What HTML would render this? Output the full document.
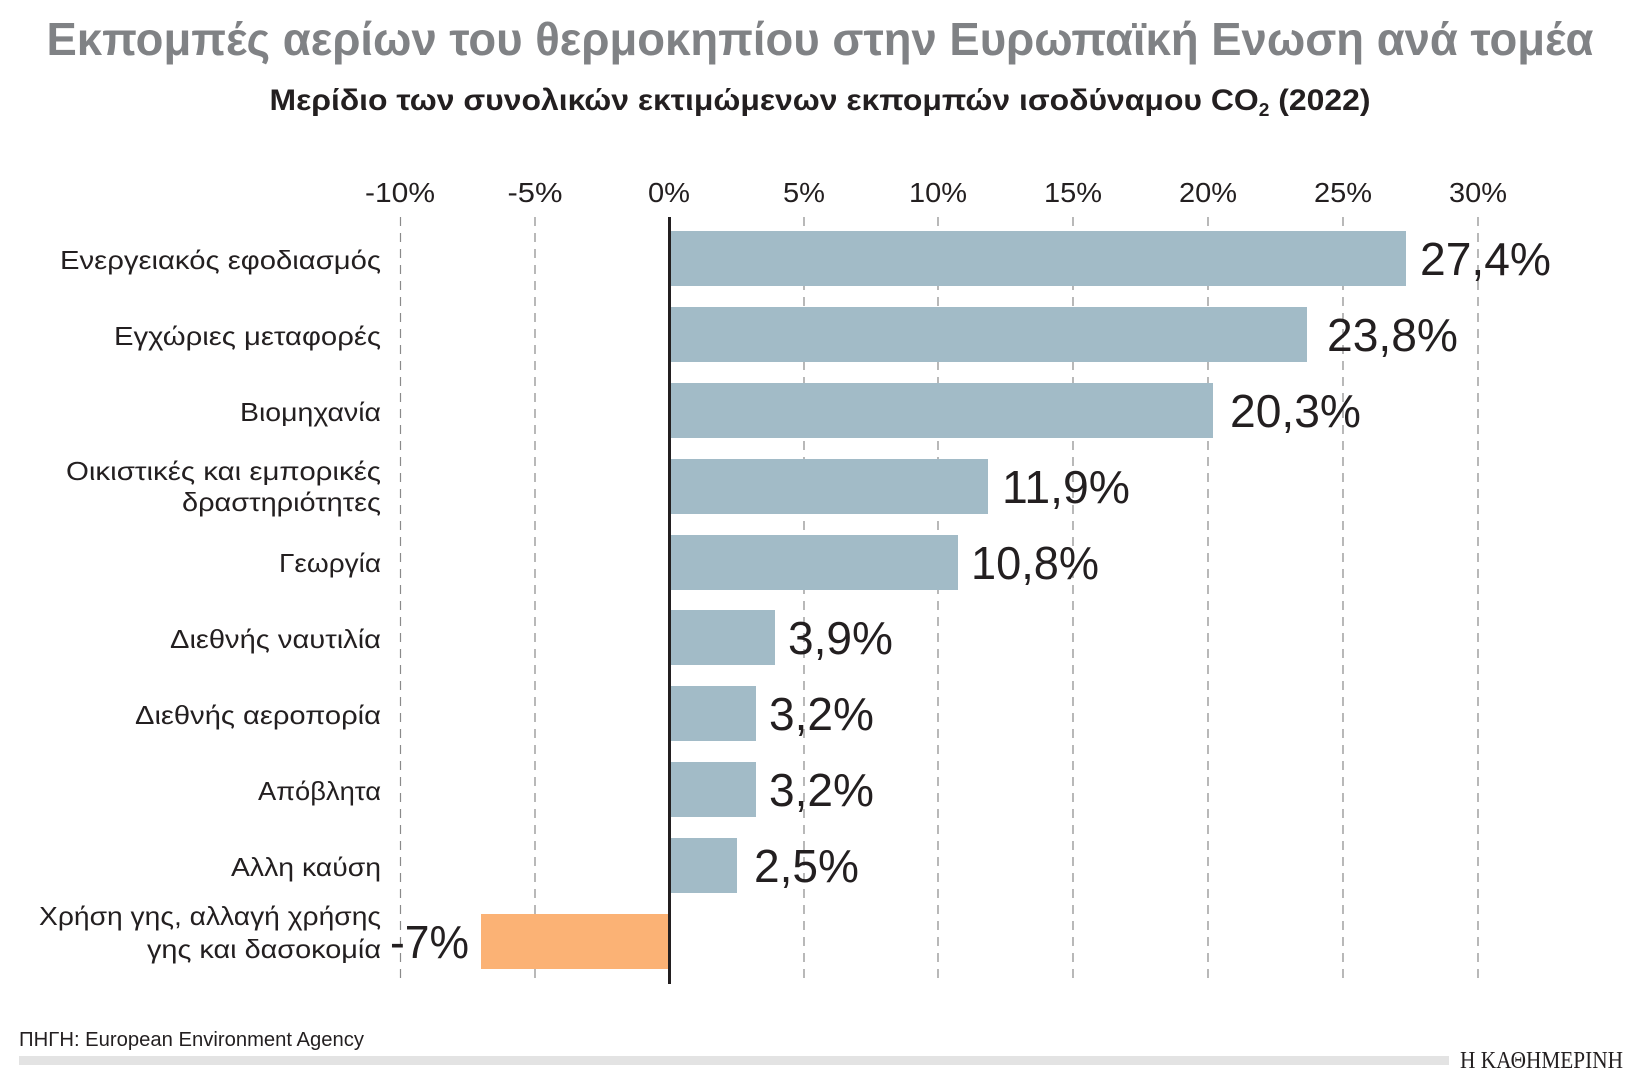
<!DOCTYPE html>
<html><head><meta charset="utf-8"><style>
html,body{margin:0;padding:0;background:#fff;}
svg{display:block;}
.t{font-family:"Liberation Sans","DejaVu Sans",sans-serif;}
</style></head><body>
<svg width="1636" height="1080" viewBox="0 0 1636 1080" xmlns="http://www.w3.org/2000/svg" class="t">
<text x="820" y="55" text-anchor="middle" font-size="46" font-weight="bold" fill="#808285" textLength="1547" lengthAdjust="spacingAndGlyphs">Εκπομπές αερίων του θερμοκηπίου στην Ευρωπαϊκή Ενωση ανά τομέα</text>
<text x="820" y="110" text-anchor="middle" font-size="30" font-weight="bold" fill="#231f20" textLength="1101" lengthAdjust="spacingAndGlyphs">Μερίδιο των συνολικών εκτιμώμενων εκπομπών ισοδύναμου CO<tspan font-size="18" dy="6">2</tspan><tspan dy="-6"> (2022)</tspan></text>
<g transform="translate(-3,0)">
<g stroke="#8a8a8a" stroke-width="1.2" stroke-dasharray="9,7">
<line x1="403.5" y1="217" x2="403.5" y2="984"/><line x1="538" y1="217" x2="538" y2="984"/>
<line x1="807" y1="217" x2="807" y2="984"/><line x1="941" y1="217" x2="941" y2="984"/>
<line x1="1076" y1="217" x2="1076" y2="984"/><line x1="1211" y1="217" x2="1211" y2="984"/>
<line x1="1346" y1="217" x2="1346" y2="984"/><line x1="1481" y1="217" x2="1481" y2="984"/>
</g>
<g font-size="28" fill="#231f20" text-anchor="middle">
<text x="403" y="202" textLength="70" lengthAdjust="spacingAndGlyphs">-10%</text>
<text x="538" y="202" textLength="55" lengthAdjust="spacingAndGlyphs">-5%</text>
<text x="672" y="202" textLength="42" lengthAdjust="spacingAndGlyphs">0%</text>
<text x="807" y="202" textLength="42" lengthAdjust="spacingAndGlyphs">5%</text>
<text x="941" y="202" textLength="58" lengthAdjust="spacingAndGlyphs">10%</text>
<text x="1076" y="202" textLength="58" lengthAdjust="spacingAndGlyphs">15%</text>
<text x="1211" y="202" textLength="58" lengthAdjust="spacingAndGlyphs">20%</text>
<text x="1346" y="202" textLength="58" lengthAdjust="spacingAndGlyphs">25%</text>
<text x="1481" y="202" textLength="58" lengthAdjust="spacingAndGlyphs">30%</text>
</g>
<g fill="#a2bbc7">
<rect x="673" y="231" width="736" height="55"/>
<rect x="673" y="307" width="637" height="55"/>
<rect x="673" y="383" width="543" height="55"/>
<rect x="673" y="459" width="318" height="55"/>
<rect x="673" y="535" width="288" height="55"/>
<rect x="673" y="610" width="105" height="55"/>
<rect x="673" y="686" width="86" height="55"/>
<rect x="673" y="762" width="86" height="55"/>
<rect x="673" y="838" width="67" height="55"/>
</g>
<rect x="484" y="914" width="188" height="55" fill="#fbb275"/>
<line x1="672.5" y1="217" x2="672.5" y2="984" stroke="#231f20" stroke-width="3"/>
<g font-size="46" fill="#231f20">
<text x="1423" y="275" textLength="131" lengthAdjust="spacingAndGlyphs">27,4%</text>
<text x="1330" y="351" textLength="131" lengthAdjust="spacingAndGlyphs">23,8%</text>
<text x="1233" y="427" textLength="131" lengthAdjust="spacingAndGlyphs">20,3%</text>
<text x="1005" y="503" textLength="128" lengthAdjust="spacingAndGlyphs">11,9%</text>
<text x="974" y="579" textLength="128" lengthAdjust="spacingAndGlyphs">10,8%</text>
<text x="791" y="654" textLength="105" lengthAdjust="spacingAndGlyphs">3,9%</text>
<text x="772" y="730" textLength="105" lengthAdjust="spacingAndGlyphs">3,2%</text>
<text x="772" y="806" textLength="105" lengthAdjust="spacingAndGlyphs">3,2%</text>
<text x="757" y="882" textLength="105" lengthAdjust="spacingAndGlyphs">2,5%</text>
<text x="393" y="958" textLength="79" lengthAdjust="spacingAndGlyphs">-7%</text>
</g>
</g>
<g font-size="26" fill="#231f20" text-anchor="end">
<text x="381" y="269" textLength="321" lengthAdjust="spacingAndGlyphs">Ενεργειακός εφοδιασμός</text>
<text x="381" y="345" textLength="267" lengthAdjust="spacingAndGlyphs">Εγχώριες μεταφορές</text>
<text x="381" y="421" textLength="141" lengthAdjust="spacingAndGlyphs">Βιομηχανία</text>
<text x="381" y="480" textLength="315" lengthAdjust="spacingAndGlyphs">Οικιστικές και εμπορικές</text>
<text x="381" y="511" textLength="199" lengthAdjust="spacingAndGlyphs">δραστηριότητες</text>
<text x="381" y="572" textLength="102" lengthAdjust="spacingAndGlyphs">Γεωργία</text>
<text x="381" y="648" textLength="211" lengthAdjust="spacingAndGlyphs">Διεθνής ναυτιλία</text>
<text x="381" y="724" textLength="246" lengthAdjust="spacingAndGlyphs">Διεθνής αεροπορία</text>
<text x="381" y="800" textLength="123" lengthAdjust="spacingAndGlyphs">Απόβλητα</text>
<text x="381" y="876" textLength="150" lengthAdjust="spacingAndGlyphs">Αλλη καύση</text>
<text x="381" y="925" textLength="342" lengthAdjust="spacingAndGlyphs">Χρήση γης, αλλαγή χρήσης</text>
<text x="381" y="958" textLength="234" lengthAdjust="spacingAndGlyphs">γης και δασοκομία</text>
</g>
<text x="19" y="1046" font-size="20" fill="#231f20" textLength="345" lengthAdjust="spacingAndGlyphs">ΠΗΓΗ: European Environment Agency</text>
<rect x="19" y="1056" width="1430" height="9" fill="#e3e3e3"/>
<text x="1460" y="1068" font-size="24" font-family="Liberation Serif,serif" fill="#231f20" textLength="163" lengthAdjust="spacingAndGlyphs">Η ΚΑΘΗΜΕΡΙΝΗ</text>
</svg>
</body></html>
